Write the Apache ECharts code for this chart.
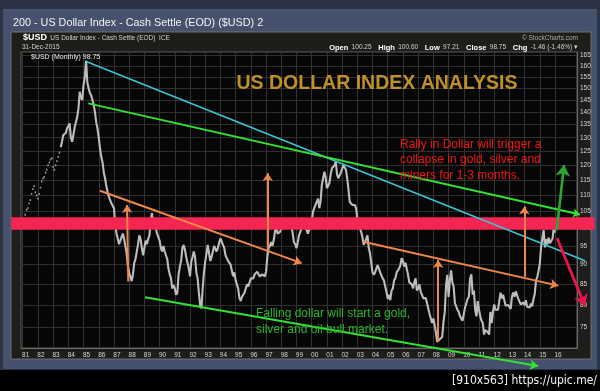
<!DOCTYPE html>
<html><head><meta charset="utf-8">
<script src="https://cdn.jsdelivr.net/npm/echarts@6/dist/echarts.min.js"></script>
<style>html,body{margin:0;padding:0;background:#000;}#c{width:600px;height:391px;}</style>
</head><body><div id="c"></div>
<script>
// ---- data ----
const yTickValues = [75,80,85,90,95,100,105,110,115,120,125,130,135,140,145,150,155,160,165];
const xTickYears = [1981,1982,1983,1984,1985,1986,1987,1988,1989,1990,1991,1992,1993,1994,1995,1996,1997,1998,1999,2000,2001,2002,2003,2004,2005,2006,2007,2008,2009,2010,2011,2012,2013,2014,2015,2016];

// sparse early data (Jan 1981 - May 1983)
const early1981to1983 = [103,104,105.5,106,107.5,108.5,110.5,112,113,111,110,109,
  110.5,112.5,114.5,115.5,116,117.5,118.5,120,121,122,122.5,119.5,
  118.5,120,121.5,123,124.5];
// monthly closes Jun 1983 - Dec 1989
const closes1983to1989 = [126.5,128.5,131,130.5,131.8,133.5,134.5,
  135.5,130,128.5,131,134,133.5,138,141.5,148.5,146,145,151.5,
  155,162.5,152.5,150,148,147,147,143,140,136,133.5,130,
  126,123,121,117.5,115.5,113,111,109.5,109,107.5,108,106,
  101,98.5,97,95.5,96.5,97.5,98.5,97,96.5,93,89.5,88,
  87.5,85.8,87.5,90.5,91.5,92,95.5,98,97,94.5,92.5,94.5,
  96.5,95.5,97,98,102.5,104.5,100.5,103,100,98.5,97.5,96.5];
const closes1990to1999 = [94.5,93.5,95,93.5,92.5,91.5,89,87.5,86.5,84,84.8,84,
  82.5,83,87.5,89.5,91,94.5,95.3,94,92,91.7,89,87,
  90.8,92,93.5,92,88,86.5,83,80,79.3,84,88,90.8,
  93,95.3,93,91,92,93.4,95,95.3,93.5,94.5,96,97.1,
  97,95.3,94.5,92.5,93,91,90.8,90,88.5,87,88,86,
  86,84,81.7,81,82,82.5,83,84,85,84.5,85.5,86.5,
  87,86.5,87.5,88,88.2,88,87,86.5,87.5,87.4,87,88.2,
  92,94.4,95,96.1,95,96.5,99,101,98.5,98,99,100,
  100.5,100,101.5,100.5,102,102.5,103,101,98.5,96.1,95.5,94.4,
  96,98,98,100,101,102,100.5,100,98.5,98,100.5,101.5];
const closes2000to2009 = [104.9,106,105.5,108,109,106,108,113.4,114,117.8,116,112.3,
  112.3,114,117,119,119.5,120,121.3,117,115.6,116.5,117.5,118,
  120.1,119.5,118.5,115.6,112,108,107.5,107,107.5,107,106,103,
  101,100,99,97.5,95.3,95,97,98,94.5,93,92.6,88,
  87.4,88,88.5,89.9,89,88,87.5,86.5,86,84.5,83.2,81.5,
  82.5,81.2,83.5,84,86,86.5,88,87.5,89,89.9,91.7,91,
  89.5,90.5,90,87.4,85.5,85.5,85,84,85.5,86.5,83.5,84,
  85,83.2,82.5,81.7,82,81.7,80.5,80.8,78,77,76,77,
  75.5,74,72,71.9,72.5,72.7,73,76.3,78.5,84.8,87.4,82,
  86,88.5,85.5,84.5,80.5,80.5,79,78.5,77.5,77,76.5,78];
const closes2010to2015 = [79.5,80.5,81.5,82,86.5,87.5,82.5,83.5,79,77.5,81,79,
  77.5,76.5,76,73.5,74.5,74.3,74,73.5,78.5,76,78.5,80.2,
  79,78.8,79,78.8,83,81.6,82.5,81.2,79.9,80,80.1,79.8,
  79.2,82,83,82,83.3,83.2,81.5,81.9,80.2,80.2,80.7,80,
  81.2,79.7,80.1,79.5,80.4,79.8,81.5,82.7,86,86.9,88.4,90.3,
  94.8,95.3,99.5,94.6,96.9,95.5,97.3,95.8,96.4,97,100.2,98.75];

// annotation end points [year, index value]
const cyanTrend = [[1985.21,162.0],[2017.97,91.0]];
const upperGreenTrend = [[1985.31,143.6],[2017.64,104.1]];
const lowerGreenTrend = [[1989.04,81.9],[2014.88,67.1]];
const orangeTrend1 = [[1986.08,111.5],[1999.34,90.4]];
const orangeTrend2 = [[2003.39,96.2],[2016.21,84.7]];
const orangeArrow1 = [[1987.94,85.7],[1987.86,107.0]];
const orangeArrow2 = [[1997.11,93.9],[1997.11,117.3]];
const orangeArrow3 = [[2008.32,72.0],[2008.32,91.2]];
const orangeArrow4 = [[2013.98,86.9],[2013.98,106.5]];
const greenUpArrow = [[2016.11,99.4],[2016.59,120.1]];
const redDownArrow = [[2016.13,97.2],[2017.97,79.85]];
const resistanceBand = [[1980.25,101.5],[2018.6,101.5]];

// ---- helpers ----
const L = v => Math.log10(v);
function monthly(startYear, startMonth, values) {
  return values.map((v, i) => { const m = startMonth - 1 + i; return [startYear + (m + 1) / 12, L(v)]; });
}
function seg(pts) { return pts.map(p => [p[0], L(p[1])]); }

const priceData = monthly(1983, 6, closes1983to1989)
  .concat(monthly(1990, 1, closes1990to1999))
  .concat(monthly(2000, 1, closes2000to2009))
  .concat(monthly(2010, 1, closes2010to2015));
const earlyData = monthly(1981, 1, early1981to1983);

const FONT = 'Liberation Sans, Arial, sans-serif';
const ORANGE = '#f0874a', LGREEN = '#35e035';

function ln(pts, color, width, arrow, size) {
  return { coords: seg(pts), lineStyle: { color: color, width: width, opacity: 1, cap: 'butt' },
           symbol: ['none', arrow ? 'arrow' : 'none'], symbolSize: [0, size || 8] };
}

const chart = echarts.init(document.getElementById('c'), null, { renderer: 'canvas' });
chart.setOption({
  animation: false,
  backgroundColor: '#000',
  grid: { left: 21, top: 52, width: 556, height: 296, show: true, backgroundColor: '#070707', borderColor: '#5c5c5c', borderWidth: 1 },
  xAxis: {
    type: 'value', min: 1980.888, max: 2017.444,
    axisLine: { show: true, lineStyle: { color: '#6a6a6a' } },
    axisTick: { show: false, customValues: xTickYears },
    axisLabel: { customValues: xTickYears, formatter: v => String(Math.round(v) % 100).padStart(2, '0'),
      color: '#d6d6d6', fontSize: 6.5, fontFamily: FONT, margin: 4, padding: [0, 0, 0, 6] },
    splitLine: { show: true, lineStyle: { color: '#333333', width: 1 } }
  },
  yAxis: {
    type: 'value', position: 'right', min: 1.84943, max: 2.22176,
    axisLine: { show: true, lineStyle: { color: '#6a6a6a' } },
    axisTick: { show: false, customValues: yTickValues.map(L) },
    axisLabel: { customValues: yTickValues.map(L), formatter: v => String(Math.round(Math.pow(10, v))),
      color: '#d6d6d6', fontSize: 6.5, fontFamily: FONT, margin: 3 },
    splitLine: { show: true, lineStyle: { color: '#2e2e2e', width: 1 } }
  },
  series: [
    { type: 'scatter', data: earlyData, symbol: 'rect', symbolSize: [1.5, 1.8], itemStyle: { color: '#c0c0c0' }, z: 2, silent: true },
    { type: 'line', data: priceData, showSymbol: false, symbol: 'none', lineStyle: { color: '#bdbdbd', width: 2.1 }, z: 2, silent: true },
    { type: 'lines', coordinateSystem: 'cartesian2d', clip: false, silent: true, z: 4,
      data: [ln(resistanceBand, '#f72552', 12.5, false)] },
    { type: 'lines', coordinateSystem: 'cartesian2d', clip: false, silent: true, z: 5,
      data: [
        ln(cyanTrend, '#3cc4d4', 1.6, false),
        ln(upperGreenTrend, LGREEN, 2, true, 7),
        ln(lowerGreenTrend, LGREEN, 2, true, 8),
        ln(orangeTrend1, ORANGE, 2, true, 8),
        ln(orangeTrend2, ORANGE, 2, true, 8),
        ln(orangeArrow1, ORANGE, 2, true, 8),
        ln(orangeArrow2, ORANGE, 2, true, 8),
        ln(orangeArrow3, ORANGE, 2, true, 8),
        ln(orangeArrow4, ORANGE, 2, true, 8),
        ln(greenUpArrow, '#27a932', 2.6, true, 11),
        ln(redDownArrow, '#e5174d', 2.8, true, 11)
      ] }
  ],
  graphic: [
    { type: 'rect', z: -30, silent: true, shape: { x: 0, y: 0, width: 600, height: 370 }, style: { fill: '#2b3345' } },
    { type: 'rect', z: -29, silent: true, shape: { x: 3, y: 9, width: 594, height: 360 }, style: { fill: '#46526d' } },
    { type: 'rect', z: -28, silent: true, shape: { x: 11, y: 32, width: 580, height: 327 }, style: { fill: '#1f1d19', stroke: '#707070', lineWidth: 1 } },
    { type: 'text', z: 50, silent: true, x: 13, y: 23, style: { text: '200 - US Dollar Index - Cash Settle (EOD) ($USD) 2', fill: '#f2f2f2', font: '10.8px ' + FONT, verticalAlign: 'middle' } },
    { type: 'text', z: 50, silent: true, x: 23, y: 38, style: { text: '{b|$USD} {n|US Dollar Index - Cash Settle (EOD)  ICE}', verticalAlign: 'middle',
      rich: { b: { fill: '#ffffff', fontWeight: 'bold', fontSize: 9, fontFamily: FONT }, n: { fill: '#d0d0d0', fontSize: 6.5, fontFamily: FONT } } } },
    { type: 'text', z: 50, silent: true, x: 22, y: 47.5, style: { text: '31-Dec-2015', fill: '#d0d0d0', font: '6.5px ' + FONT, verticalAlign: 'middle' } },
    { type: 'text', z: 50, silent: true, x: 578, y: 38, style: { text: '© StockCharts.com', fill: '#a8a8a8', font: '6.5px ' + FONT, align: 'right', verticalAlign: 'middle' } },
    { type: 'text', z: 50, silent: true, x: 578, y: 47.5, style: { align: 'right', verticalAlign: 'middle',
      text: '{b|Open} {n|100.25}  {b|High} {n|100.60}  {b|Low} {n|97.21}  {b|Close} {n|98.75}  {b|Chg} {n|-1.46 (-1.46%) ▾}',
      rich: { b: { fill: '#ffffff', fontWeight: 'bold', fontSize: 7.5, fontFamily: FONT }, n: { fill: '#d0d0d0', fontSize: 6.5, fontFamily: FONT } } } },
    { type: 'text', z: 50, silent: true, x: 31, y: 57.5, style: { text: '$USD (Monthly) 98.75', fill: '#ececec', font: '7px ' + FONT, verticalAlign: 'middle' } },
    { type: 'text', z: 50, silent: true, x: 236.5, y: 84, style: { text: 'US DOLLAR INDEX ANALYSIS', fill: '#c0902a', font: 'bold 19.5px ' + FONT, verticalAlign: 'middle' } },
    { type: 'text', z: 50, silent: true, x: 400, y: 136.5, style: { text: 'Rally in Dollar will trigger a\ncollapse in gold, silver and\nminers for 1-3 months.', fill: '#ee1515', font: '12px ' + FONT, lineHeight: 15.7 } },
    { type: 'text', z: 50, silent: true, x: 256, y: 305, style: { text: 'Falling dollar will start a gold,\nsilver and oil bull market.', fill: '#2bb52b', font: '12px ' + FONT, lineHeight: 16.5 } },
    { type: 'text', z: 50, silent: true, x: 597, y: 381, style: { text: '[910x563] https://upic.me/', fill: '#f4f4f4', font: '12px DejaVu Sans Condensed, sans-serif', align: 'right', verticalAlign: 'middle' } }
  ]
});
</script></body></html>
